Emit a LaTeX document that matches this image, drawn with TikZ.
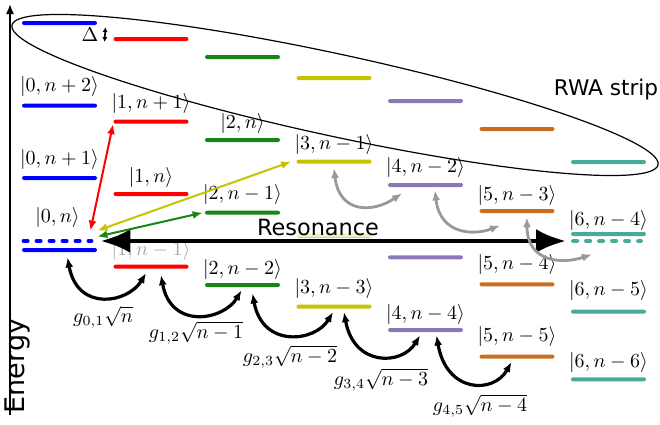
\documentclass[tikz,border=0pt]{standalone}
\usepackage{fontspec}
\setsansfont{DejaVu Sans}
\usepackage{tikz}
\usetikzlibrary{arrows.meta, positioning}
\definecolor{cb}{RGB}{0,0,255}
\definecolor{cr}{RGB}{255,0,0}
\definecolor{cg}{RGB}{22,135,22}
\definecolor{cy}{RGB}{200,195,0}
\definecolor{cp}{RGB}{140,120,185}
\definecolor{co}{RGB}{200,110,30}
\definecolor{ct}{RGB}{72,170,152}

\begin{document}
\begin{tikzpicture}[x=0.5pt, y=-0.5pt,
		>={Latex[length=5pt,width=4pt]},   %Pfeilspitzen
		lvl/.style={fill=#1, minimum width=37.5pt, minimum height=2pt, inner sep=0pt, rounded corners=1pt},
		ghost/.style={minimum width=35.5pt, minimum height=2pt, inner sep=0pt},
		dlevel/.style={draw=#1, line width=2pt, line cap=round, dash pattern=on 2pt off 4.5pt, shorten <=1pt, shorten >=1pt},
		ket/.style={inner sep=0pt},
		pair/.style={<->, line width=1pt},
		hop/.style={<->, line width=1.4pt, color=gray!80},
		coup/.style={<->, line width=1.6pt},
		font=\normalsize]
	\useasboundingbox (0,0) rectangle (660,424);
	% Energieachse
	\coordinate (ebot) at (10,415);
	\coordinate (etop) at (10,4);
	\draw[->, line width=0.8pt] (ebot) -- (etop);
	\node[rotate=90, font=\fontsize{13.5}{16}\sffamily] (elab) at (17,366) {Energy};
	% RWA-Streifen
	\draw[line width=0.6pt, rotate around={-12.2:(335,95)}] (335,95) ellipse [x radius=165.25pt, y radius=20.5pt];
	\node[font=\fontsize{10.8}{13}\sffamily] (rwa) at (606,90) {RWA strip};
	% Niveaus im Streifen
	\foreach \c/\f/\y in {0/cb/23, 1/cr/39, 2/cg/57, 3/cy/78, 4/cp/101, 5/co/129, 6/ct/162}
		\node[lvl=\f] (top\c) at ({59.5+91.5*\c},\y) {};
	\node (dlt) at (90,35) {$\Delta$};
	\draw[{Latex[length=2.5pt,width=2.6pt]}-{Latex[length=2.5pt,width=2.6pt]}, line width=0.8pt]
		([shift={(4pt,-2pt)}]top0.east) -- ([shift={(-4.25pt,-1.5pt)}]top1.west);
	% Spalte 0
	\node[lvl=cb] (q0p2) at (59.5,105.7) {};
	\node[lvl=cb] (q0p1) at (59.5,178) {};
	\node[lvl=cb] (q0) at (59.5,250) {};
	\node[ghost] (q0d) at (57.5,241) {};
	\draw[dlevel=cb] (q0d.west) -- (q0d.east);
	% Spalte 1
	\node[lvl=cr] (q1p1) at (151,121.7) {};
	\node[lvl=cr] (q1) at (151,194) {};
	\node[lvl=cr] (q1m1) at (151,266.7) {};
	% Spalte 2
	\node[lvl=cg] (q2) at (242.5,140) {};
	\node[lvl=cg] (q2m1) at (242.5,212.7) {};
	\node[lvl=cg] (q2m2) at (242.5,285) {};
	% Spalte 3
	\node[lvl=cy] (q3m1) at (334,161.7) {};
	\node[lvl=cy] (q3m2) at (334,235.5) {};
	\node[lvl=cy] (q3m3) at (334,306.7) {};
	% Spalte 4
	\node[lvl=cp] (q4m2) at (425.5,185) {};
	\node[lvl=cp] (q4m3) at (425.5,257.3) {};
	\node[lvl=cp] (q4m4) at (425.5,330) {};
	% Spalte 5
	\node[lvl=co] (q5m3) at (517,211) {};
	\node[lvl=co] (q5m4) at (517,284.3) {};
	\node[lvl=co] (q5m5) at (517,356.7) {};
	% Spalte 6
	\node[lvl=ct] (q6m4) at (608.5,234) {};
	\node[ghost] (q6m4d) at (607,241) {};
	\draw[dlevel=ct] (q6m4d.west) -- (q6m4d.east);
	\node[lvl=ct] (q6m5) at (608.5,311.7) {};
	\node[lvl=ct] (q6m6) at (608.5,379.3) {};
	% Beschriftung der Zustaende
	\node[ket, above=3pt of q0p2] (k0p2) {$|0,n+2\rangle$};
	\node[ket, above=3pt of q0p1] (k0p1) {$|0,n+1\rangle$};
	\node[ket, above=5.5pt of q0d] (k0) {$|0,n\rangle$};
	\node[ket, above=2.5pt of q1p1] (k1p1) {$|1,n+1\rangle$};
	\node[ket, above=2pt of q1] (k1) {$|1,n\rangle$};
	\node[ket, above=1.5pt of q1m1, text=gray!70] (k1m1) {$|1,n-1\rangle$};
	\node[ket, above=2pt of q2] (k2) {$|2,n\rangle$};
	\node[ket, above=2.5pt of q2m1] (k2m1) {$|2,n-1\rangle$};
	\node[ket, above=1.5pt of q2m2] (k2m2) {$|2,n-2\rangle$};
	\node[ket, above=2pt of q3m1] (k3m1) {$|3,n-1\rangle$};
	\node[ket, above=2.5pt of q3m3] (k3m3) {$|3,n-3\rangle$};
	\node[ket, above=2.5pt of q4m2] (k4m2) {$|4,n-2\rangle$};
	\node[ket, above=1.5pt of q4m4] (k4m4) {$|4,n-4\rangle$};
	\node[ket, above=1.5pt of q5m3] (k5m3) {$|5,n-3\rangle$};
	\node[ket, above=3.5pt of q5m4] (k5m4) {$|5,n-4\rangle$};
	\node[ket, above=3.5pt of q5m5] (k5m5) {$|5,n-5\rangle$};
	\node[ket, above=0.5pt of q6m4] (k6m4) {$|6,n-4\rangle$};
	\node[ket, above=4pt of q6m5] (k6m5) {$|6,n-5\rangle$};
	\node[ket, above=2pt of q6m6] (k6m6) {$|6,n-6\rangle$};
	% Resonanz
	\node[font=\fontsize{11.2}{13}\sffamily, fill=white, fill opacity=0.75, text opacity=1, inner sep=1pt] (res) at (318,227) {Resonance};
	\draw[{Latex[length=15pt,width=12pt]}-{Latex[length=15pt,width=12pt]}, line width=2.4pt]
		([xshift=3.5pt]q0d.east) -- ([xshift=-2.5pt]q6m4d.west);
	% direkte Kopplungen
	\draw[pair, cr] ([shift={(-1.5pt,4pt)}]q0d.north east) -- (q1p1.south west);
	\draw[pair, cy] ([shift={(2pt,4pt)}]q0d.north east) -- ([xshift=-2.5pt]q3m1.west);
	\draw[pair, cg] ([shift={(2pt,1pt)}]q0d.north east) -- ([xshift=-1pt]q2m1.west);
	% Kopplungen im Streifen
	\draw[hop] ([yshift=-2pt]q3m1.south) .. controls +(5,45) and +(-30,20) .. ([shift={(-11.75pt,-3pt)}]q4m2.south);
	\draw[hop] ([shift={(4.75pt,-1.5pt)}]q4m2.south) .. controls +(5,45) and +(-25,10) .. ([shift={(-8.5pt,-6pt)}]q5m3.south);
	\draw[hop] ([shift={(5pt,-2pt)}]q5m3.south) .. controls +(0,45) and +(-30,10) .. ([shift={(-7.5pt,-5.5pt)}]q6m4d.south);
	% Kopplungen g
	\draw[coup] ([shift={(4pt,-2.5pt)}]q0.south) .. controls +(10,55) and +(-18,30) .. ([shift={(-2.5pt,-2pt)}]q1m1.south);
	\draw[coup] ([shift={(5pt,-3pt)}]q1m1.south) .. controls +(10,55) and +(-18,30) .. ([shift={(-0.5pt,-1.5pt)}]q2m2.south);
	\draw[coup] ([shift={(5pt,-3pt)}]q2m2.south) .. controls +(10,55) and +(-18,30) .. ([shift={(-0.5pt,-1.5pt)}]q3m3.south);
	\draw[coup] ([shift={(5pt,-1.5pt)}]q3m3.south) .. controls +(10,55) and +(-18,30) .. ([shift={(-2.75pt,-1.5pt)}]q4m4.south);
	\draw[coup] ([shift={(5.5pt,-1.5pt)}]q4m4.south) .. controls +(10,58) and +(-18,32) .. ([shift={(-2.75pt,-1.5pt)}]q5m5.south);
	\node (g01) at (103,317) {$g_{0,1}\sqrt{n}$};
	\node (g12) at (196,333) {$g_{1,2}\sqrt{n-1}$};
	\node (g23) at (290,357) {$g_{2,3}\sqrt{n-2}$};
	\node (g34) at (381,380) {$g_{3,4}\sqrt{n-3}$};
	\node (g45) at (480,406) {$g_{4,5}\sqrt{n-4}$};
\end{tikzpicture}
\end{document}
